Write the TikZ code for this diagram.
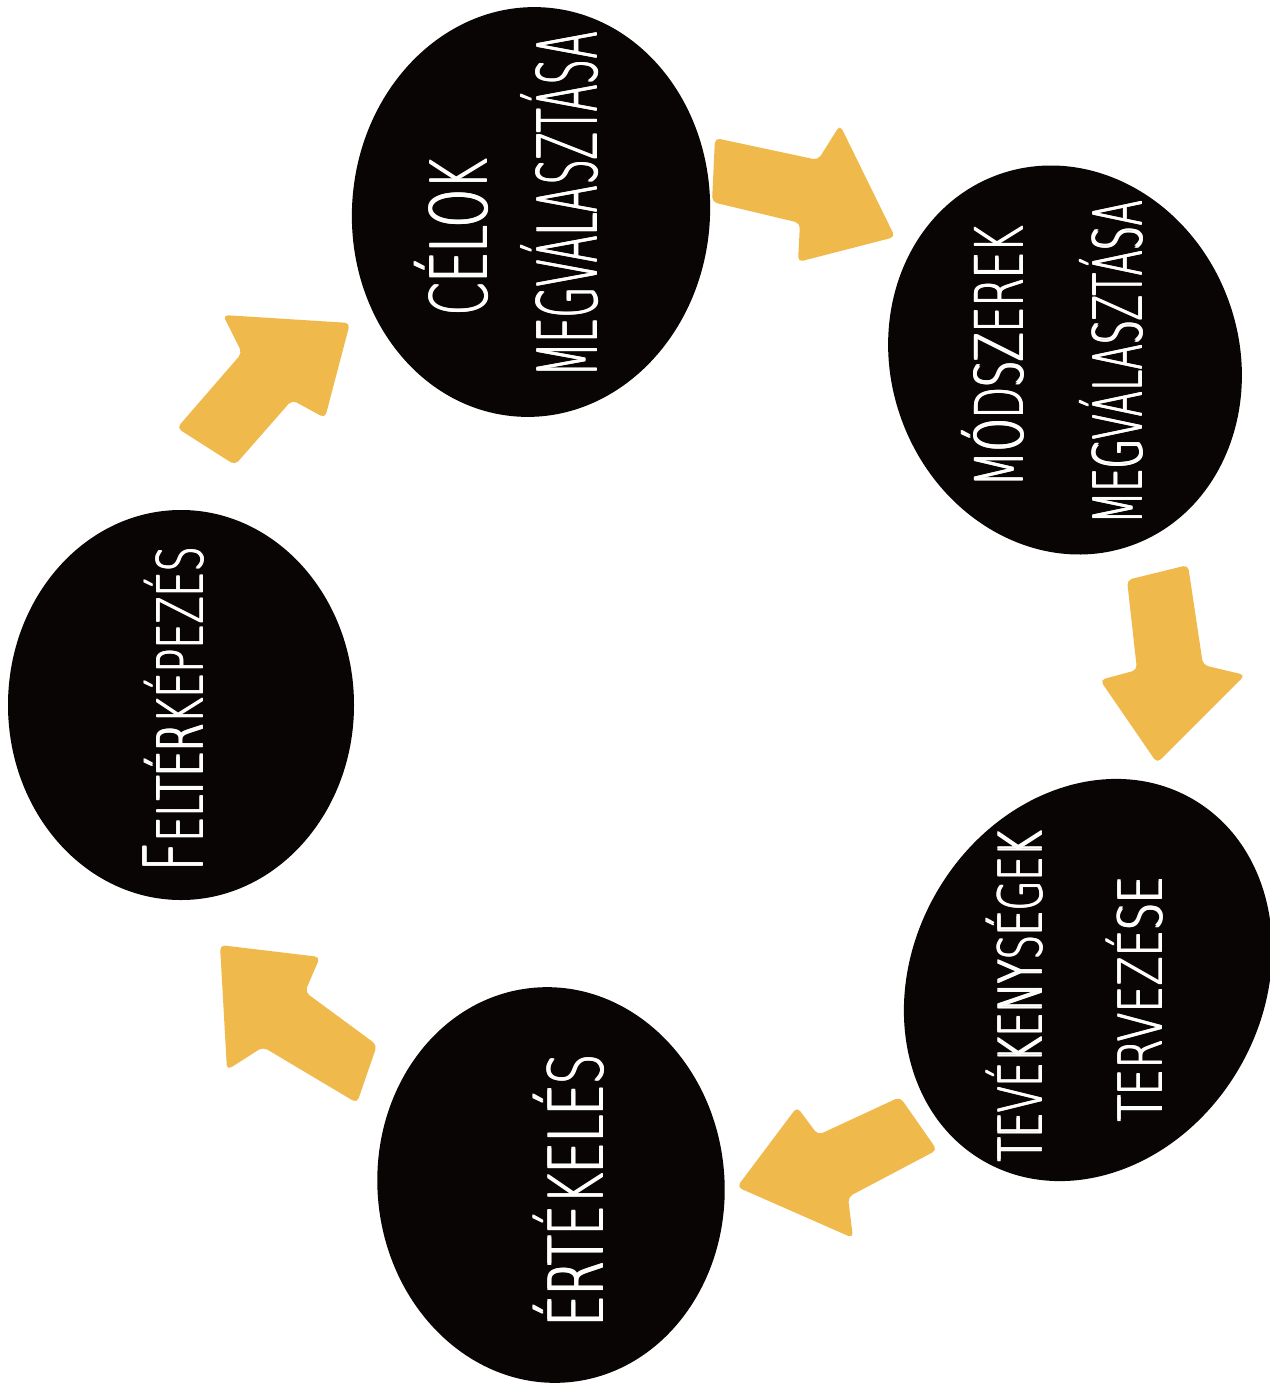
\documentclass[tikz,border=0pt]{standalone}
\usepackage{fontspec}
\usepackage{graphicx}
\usetikzlibrary{shapes.geometric}
\newfontfamily\hand{DejaVu Sans ExtraLight}
\definecolor{arrowyellow}{RGB}{240,185,75}
\definecolor{blobblack}{RGB}{10,5,5}
\newcommand\thicktext[1]{\rlap{\raisebox{1bp}{#1}}\rlap{\hspace{2.2bp}#1}\rlap{\hspace{2.2bp}\raisebox{1bp}{#1}}#1}
\newcommand\lbltext[3]{\resizebox{#1bp}{\height}{\hand\fontsize{#2bp}{#2bp}\selectfont\thicktext{#3}}}
\begin{document}
\begin{tikzpicture}[x=1bp,y=-1bp,
  blob/.style={ellipse, fill=blobblack, draw=none, inner sep=0pt},
  lbl/.style={rotate=90, anchor=base, inner sep=0pt, text=white},
  blockarrow/.style={fill=arrowyellow, draw=none, rounded corners=5bp}]
\useasboundingbox (0,0) rectangle (1269,1384);
\fill[white] (0,0) rectangle (1269,1384);

% ellipses
\node[blob, minimum width=346bp, minimum height=390bp] (feltar) at (181,705) {};
\node[blob, minimum width=358bp, minimum height=410bp, rotate=-4] (celok) at (531,212) {};
\node[blob, minimum width=348bp, minimum height=394bp, rotate=20] (modsz) at (1065,360) {};
\node[blob, minimum width=350bp, minimum height=418bp, rotate=-30] (tevek) at (1088,980) {};
\node[blob, minimum width=347bp, minimum height=396bp, rotate=5] (ertek) at (551,1185) {};

% labels
\node[lbl] (t1) at (203,710) {\resizebox{325bp}{\height}{\hand\thicktext{\fontsize{82bp}{82bp}\selectfont F\fontsize{63bp}{63bp}\selectfont ELTÉRKÉPEZÉS}}};
\node[lbl] (t2a) at (487,238) {\lbltext{157}{78}{CÉLOK}};
\node[lbl] (t2b) at (597,205) {\lbltext{346}{82}{MEGVÁLASZTÁSA}};
\node[lbl] (t3a) at (1023,357) {\lbltext{261}{66}{MÓDSZEREK}};
\node[lbl] (t3b) at (1142,363) {\lbltext{323}{67}{MEGVÁLASZTÁSA}};
\node[lbl] (t4a) at (1042,997) {\lbltext{330}{60}{TEVÉKENYSÉGEK}};
\node[lbl] (t4b) at (1162,1000) {\lbltext{245}{60}{TERVEZÉSE}};
\node[lbl] (t5) at (603,1191) {\lbltext{272}{75}{ÉRTÉKELÉS}};

% block arrows
\fill[blockarrow] (177,428) -- (235,465) -- (292,400) -- (325,418) -- (350,323) -- (223,315) -- (242,353) -- cycle;
\fill[blockarrow] (715,138) -- (712,202) -- (800,223) -- (798,262) -- (895,237) -- (840,125) -- (818,160) -- cycle;
\fill[blockarrow] (1127,580) -- (1188,565) -- (1203,665) -- (1245,675) -- (1157,763) -- (1100,680) -- (1137,670) -- cycle;
\fill[blockarrow] (900,1097) -- (937,1150) -- (848,1197) -- (853,1238) -- (737,1187) -- (797,1107) -- (818,1135) -- cycle;
\fill[blockarrow] (357,1103) -- (377,1045) -- (305,992) -- (320,957) -- (220,945) -- (227,1070) -- (263,1047) -- cycle;
\end{tikzpicture}
\end{document}
